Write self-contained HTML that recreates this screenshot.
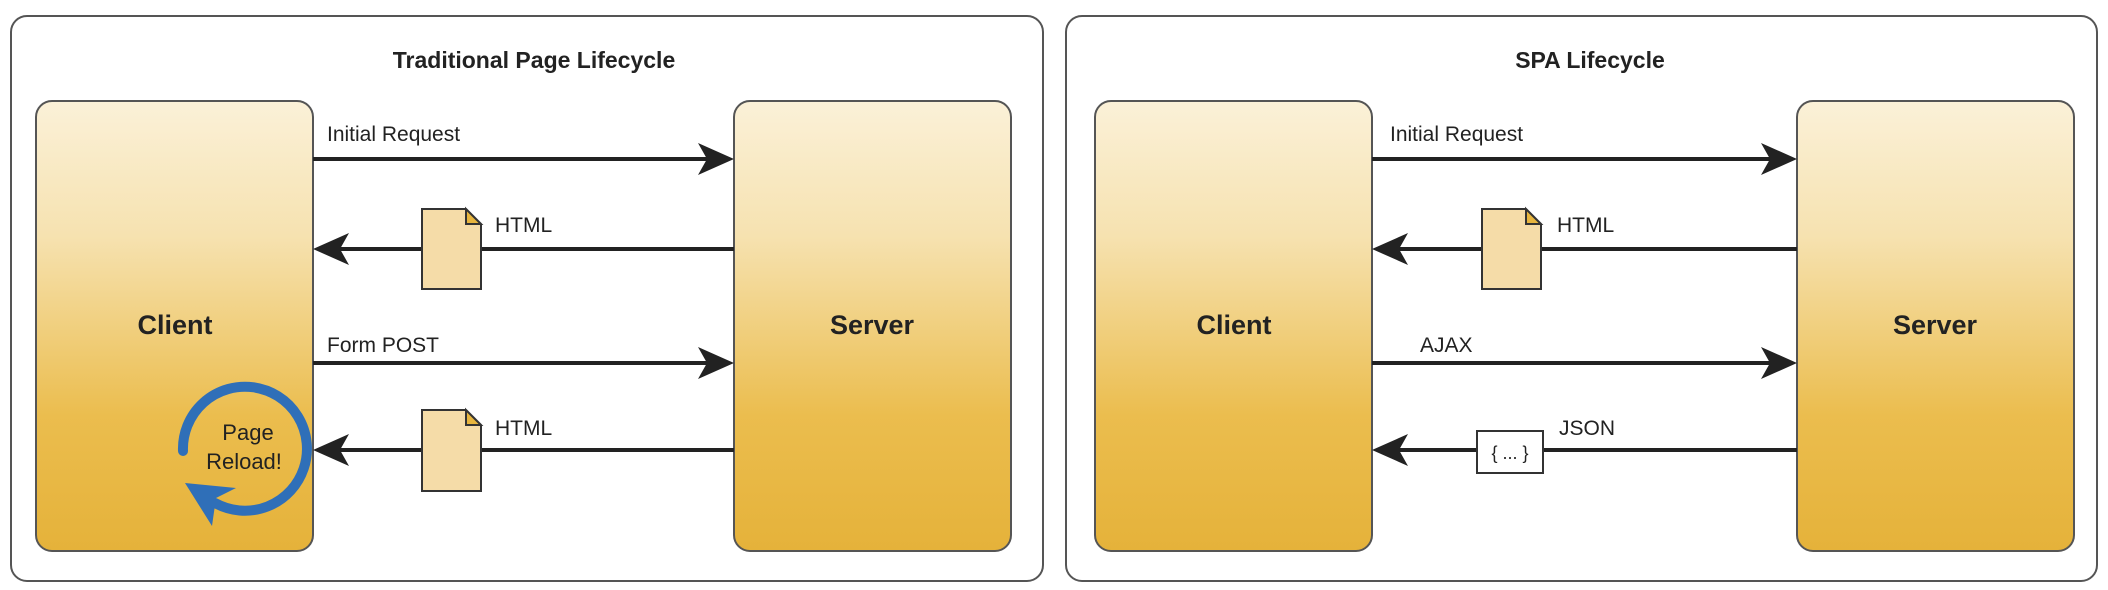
<!DOCTYPE html>
<html><head><meta charset="utf-8"><style>
html,body{margin:0;padding:0;background:#fff;}
svg{display:block;}
text{font-family:"Liberation Sans",sans-serif;}
</style></head><body>
<svg width="2108" height="590" viewBox="0 0 2108 590" xmlns="http://www.w3.org/2000/svg">
<defs>
<linearGradient id="g" x1="0" y1="0" x2="0" y2="1">
<stop offset="0" stop-color="#fbf1d8"/>
<stop offset="0.3" stop-color="#f6e2b0"/>
<stop offset="0.7" stop-color="#ebbd4e"/>
<stop offset="1" stop-color="#e5b23a"/>
</linearGradient>
</defs>

<rect x="11" y="16" width="1032" height="565" rx="16" fill="#fff" stroke="#555" stroke-width="2"/>
<rect x="1066" y="16" width="1031" height="565" rx="16" fill="#fff" stroke="#555" stroke-width="2"/>

<text x="534" y="68" text-anchor="middle" font-size="23" font-weight="bold" fill="#222">Traditional Page Lifecycle</text>
<text x="1590" y="68" text-anchor="middle" font-size="23" font-weight="bold" fill="#222">SPA Lifecycle</text>

<g stroke="#555" stroke-width="2" fill="url(#g)">
<rect x="36" y="101" width="277" height="450" rx="16"/>
<rect x="734" y="101" width="277" height="450" rx="16"/>
<rect x="1095" y="101" width="277" height="450" rx="16"/>
<rect x="1797" y="101" width="277" height="450" rx="16"/>
</g>
<g font-size="27" font-weight="bold" fill="#222" text-anchor="middle">
<text x="175" y="334">Client</text>
<text x="872" y="334">Server</text>
<text x="1234" y="334">Client</text>
<text x="1935" y="334">Server</text>
</g>

<g stroke="#222" stroke-width="4">
<line x1="313" y1="159" x2="712" y2="159"/>
<line x1="734" y1="249" x2="335" y2="249"/>
<line x1="313" y1="363" x2="712" y2="363"/>
<line x1="734" y1="450" x2="335" y2="450"/>
<line x1="1372" y1="159" x2="1775" y2="159"/>
<line x1="1797" y1="249" x2="1394" y2="249"/>
<line x1="1372" y1="363" x2="1775" y2="363"/>
<line x1="1797" y1="450" x2="1394" y2="450"/>
</g>
<g fill="#222">
<path d="M734,159 L698,143 L707,159 L698,175 Z"/>
<path d="M734,363 L698,347 L707,363 L698,379 Z"/>
<path d="M1797,159 L1761,143 L1770,159 L1761,175 Z"/>
<path d="M1797,363 L1761,347 L1770,363 L1761,379 Z"/>
<path d="M313,249 L349,233 L340,249 L349,265 Z"/>
<path d="M313,450 L349,434 L340,450 L349,466 Z"/>
<path d="M1372,249 L1408,233 L1399,249 L1408,265 Z"/>
<path d="M1372,450 L1408,434 L1399,450 L1408,466 Z"/>
</g>

<g font-size="21" fill="#222">
<text x="327" y="141">Initial Request</text>
<text x="495" y="232">HTML</text>
<text x="327" y="352">Form POST</text>
<text x="495" y="435">HTML</text>
<text x="1390" y="141">Initial Request</text>
<text x="1557" y="232">HTML</text>
<text x="1420" y="352">AJAX</text>
<text x="1559" y="435">JSON</text>
</g>

<g stroke="#333" stroke-width="2">
<path d="M422,209 H466 L481,224 V289 H422 Z" fill="#f5dca8"/>
<path d="M466,209 V224 H481 Z" fill="#e7b53e"/>
<path d="M422,410 H466 L481,425 V491 H422 Z" fill="#f5dca8"/>
<path d="M466,410 V425 H481 Z" fill="#e7b53e"/>
<path d="M1482,209 H1526 L1541,224 V289 H1482 Z" fill="#f5dca8"/>
<path d="M1526,209 V224 H1541 Z" fill="#e7b53e"/>
</g>
<rect x="1477" y="431" width="66" height="42" fill="#fff" stroke="#333" stroke-width="2"/>
<text x="1510" y="459" text-anchor="middle" font-size="18" fill="#222">{ ... }</text>

<path d="M183,451 A62,62 0 1 1 215,503" fill="none" stroke="#2f6fb8" stroke-width="10" stroke-linecap="round"/>
<path d="M185,483 L236,488 L216,498 L212,526 Z" fill="#2f6fb8"/>
<text x="248" y="440" text-anchor="middle" font-size="22" fill="#222">Page</text>
<text x="244" y="469" text-anchor="middle" font-size="22" fill="#222">Reload!</text>
</svg>
</body></html>
